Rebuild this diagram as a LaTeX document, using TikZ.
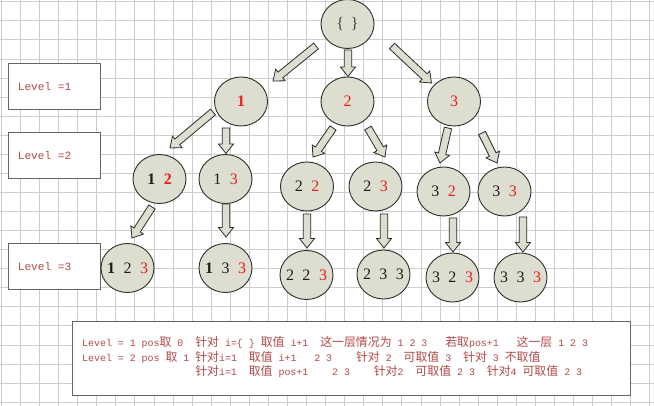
\documentclass[tikz,border=0pt]{standalone}
\usepackage{fontspec}
\setmainfont{Liberation Serif}
\newfontfamily\monof{Liberation Mono}
\newfontfamily\cjk{Noto Sans CJK SC}
\usetikzlibrary{calc,shapes.geometric}
\definecolor{nodefill}{RGB}{221,222,208}
\definecolor{edgec}{RGB}{45,45,45}
\definecolor{gridc}{RGB}{205,205,205}
\definecolor{lbl}{RGB}{178,72,72}
\definecolor{numred}{RGB}{235,30,30}
\definecolor{digit}{RGB}{30,30,30}
\definecolor{boxline}{RGB}{100,100,100}
\newcommand\blockarrow[2]{%
  \coordinate (bh) at ($(#2)!9.5pt!(#1)$);
  \draw[barrowst] ($(#1)!3.75pt!90:(#2)$) -- ($(bh)!3.75pt!90:(#2)$) -- ($(bh)!7.5pt!90:(#2)$) -- (#2) -- ($(bh)!7.5pt!-90:(#2)$) -- ($(bh)!3.75pt!-90:(#2)$) -- ($(#1)!3.75pt!-90:(#2)$) -- cycle;}
\newcommand\gap{\hspace{8.5pt}}
\newcommand\R[1]{\textcolor{numred}{#1}}
\newcommand\B[1]{\textbf{#1}}
\newcommand\lab[1]{\makebox[0pt][c]{#1}}
\newcommand\zh[1]{{\cjk\fontsize{11.9}{12}\selectfont #1}}
\begin{document}
\begin{tikzpicture}[x=1pt,y=-1pt,
  tnode/.style={ellipse, draw=edgec, fill=nodefill, line width=0.9pt, minimum width=53pt, minimum height=49pt, inner sep=0pt, text=digit, font=\fontsize{16}{16}\selectfont},
  barrowst/.style={draw=edgec, fill=nodefill, line width=0.8pt, line join=miter},
  levelbox/.style={draw=boxline, fill=white, line width=0.8pt, minimum width=92pt, minimum height=46pt, inner sep=0pt},
  lvltext/.style={anchor=base west, inner sep=0pt, text=lbl, font=\monof\fontsize{11.1}{12}\selectfont},
  codetext/.style={anchor=base west, inner sep=0pt, text=lbl, font=\monof\fontsize{9.92}{12}\selectfont}]
\useasboundingbox (0,0) rectangle (654,406);
\fill[white] (0,0) rectangle (654,406);
\foreach \i in {0,...,34} \draw[gridc, line width=0.6pt] ({1.3+19.07*\i},0) -- ({1.3+19.07*\i},406);
\foreach \j in {0,...,21} \draw[gridc, line width=0.6pt] (0,{1.6+19.07*\j}) -- (654,{1.6+19.07*\j});

% level boxes
\node[levelbox] (lv1) at (54,86) {};
\node[levelbox] (lv2) at (54,155) {};
\node[levelbox] (lv3) at (54,266.5) {};
\node[lvltext] (lv1t) at (17.7,90.5) {Level =1};
\node[lvltext] (lv2t) at (17.7,159.5) {Level =2};
\node[lvltext] (lv3t) at (17.7,271) {Level =3};

% tree nodes
\node[tnode] (root) at (347.5,24) {\lab{\textcolor{darkgray}{\{\hspace{7pt}\}}}};
\node[tnode] (n1) at (241,101.5) {\lab{\R{\B{1}}}};
\node[tnode] (n2) at (347.5,101.5) {\lab{\R{2}}};
\node[tnode] (n3) at (454,101.5) {\lab{\R{3}}};
\node[tnode] (n12) at (159.5,179) {\lab{\B{1}\gap\R{\B{2}}}};
\node[tnode] (n13) at (225.5,179) {\lab{1\gap\R{3}}};
\node[tnode] (n22) at (307,186.5) {\lab{2\gap\R{2}}};
\node[tnode] (n23) at (375.5,186.5) {\lab{2\gap\R{3}}};
\node[tnode] (n32) at (443.5,191.5) {\lab{3\gap\R{2}}};
\node[tnode] (n33) at (504.5,191.5) {\lab{3\gap\R{3}}};
\node[tnode] (n123) at (127.5,268) {\lab{\B{1}\gap 2\gap\R{3}}};
\node[tnode] (n133) at (225.5,268) {\lab{\B{1}\gap 3\gap\R{3}}};
\node[tnode] (n223) at (306.5,275) {\lab{2\gap 2\gap\R{3}}};
\node[tnode] (n233) at (383.5,274.5) {\lab{2\gap 3\gap 3}};
\node[tnode] (n323) at (452.5,277.5) {\lab{3\gap 2\gap\R{3}}};
\node[tnode] (n333) at (520.5,277.5) {\lab{3\gap 3\gap\R{3}}};

% arrow ends
\coordinate (r1t) at (316,46);   \coordinate (r1h) at (273,81);
\coordinate (r2t) at (348,50);   \coordinate (r2h) at (348,76.5);
\coordinate (r3t) at (392,46);   \coordinate (r3h) at (431.5,83);
\coordinate (a12t) at (213,112); \coordinate (a12h) at (170,148);
\coordinate (a13t) at (226,128); \coordinate (a13h) at (226,153.5);
\coordinate (a22t) at (333,128); \coordinate (a22h) at (313,157);
\coordinate (a23t) at (368,128); \coordinate (a23h) at (385,157);
\coordinate (a32t) at (448,128); \coordinate (a32h) at (440,163);
\coordinate (a33t) at (482,133); \coordinate (a33h) at (497,163);
\coordinate (b123t) at (152,207); \coordinate (b123h) at (132,238);
\coordinate (b133t) at (226,204); \coordinate (b133h) at (226,237);
\coordinate (b223t) at (307,214); \coordinate (b223h) at (307,248);
\coordinate (b233t) at (384,214); \coordinate (b233h) at (384,248);
\coordinate (b323t) at (453,218); \coordinate (b323h) at (453,252);
\coordinate (b333t) at (523,217); \coordinate (b333h) at (523,252);
\blockarrow{r1t}{r1h}
\blockarrow{r2t}{r2h}
\blockarrow{r3t}{r3h}
\blockarrow{a12t}{a12h}
\blockarrow{a13t}{a13h}
\blockarrow{a22t}{a22h}
\blockarrow{a23t}{a23h}
\blockarrow{a32t}{a32h}
\blockarrow{a33t}{a33h}
\blockarrow{b123t}{b123h}
\blockarrow{b133t}{b133h}
\blockarrow{b223t}{b223h}
\blockarrow{b233t}{b233h}
\blockarrow{b323t}{b323h}
\blockarrow{b333t}{b333h}

% note box
\node[draw=boxline, fill=white, line width=1pt, minimum width=558pt, minimum height=73pt, inner sep=0pt] (note) at (351,358.5) {};
\node[codetext] (c1) at (82,347) {Level~=~1~pos\zh{取}~0~~\zh{针对}~i=\{~\}~\zh{取值}~i+1~~\zh{这一层情况为}~1~2~3~~~\zh{若取}pos+1~~~\zh{这一层}~1~2~3};
\node[codetext] (c2) at (82,361.5) {Level~=~2~pos~\zh{取}~1~\zh{针对}i=1~~\zh{取值}~i+1~~~2~3~~~~\zh{针对}~2~~\zh{可取值}~3~~\zh{针对}~3~\zh{不取值}};
\node[codetext] (c3) at (195.05,376) {\zh{针对}i=1~~\zh{取值}~pos+1~~~~2~3~~~~\zh{针对}2~~\zh{可取值}~2~3~~\zh{针对}4~\zh{可取值}~2~3};
\end{tikzpicture}
\end{document}
